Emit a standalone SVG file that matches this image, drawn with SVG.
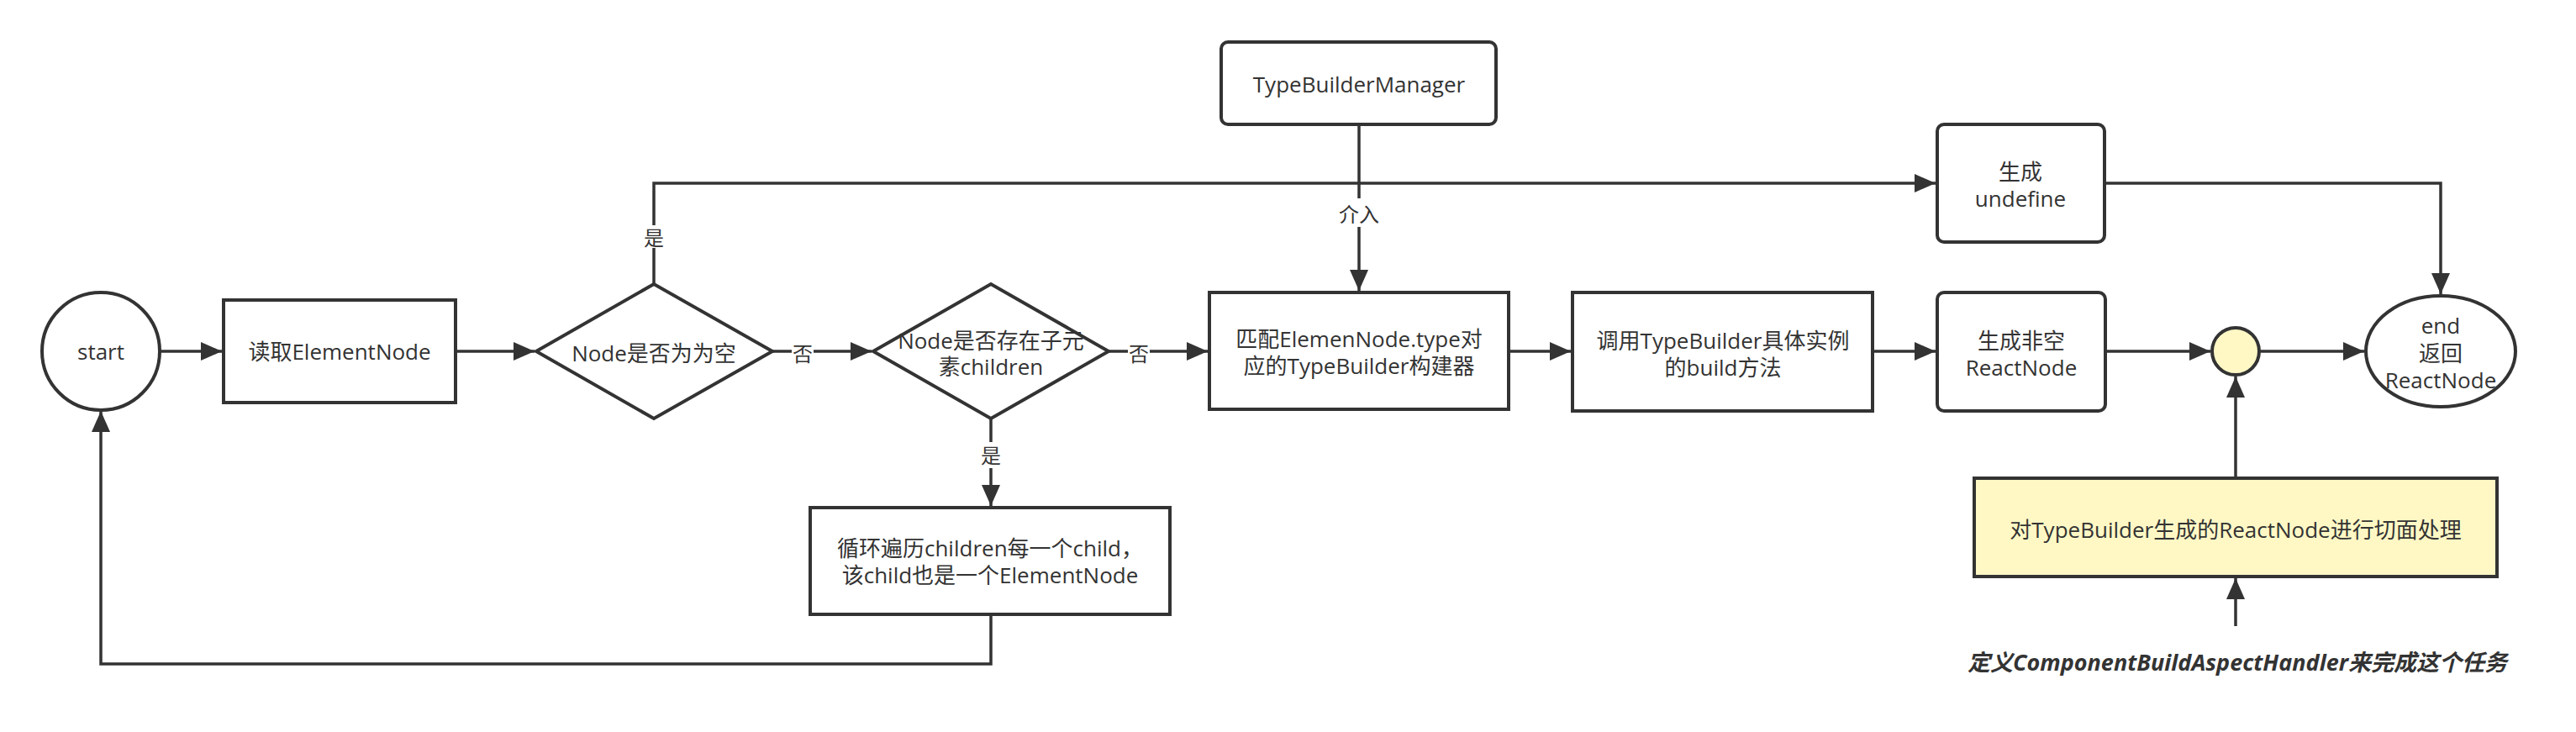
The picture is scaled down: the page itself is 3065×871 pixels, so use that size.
<svg xmlns="http://www.w3.org/2000/svg" width="3065" height="871" viewBox="0 0 3065 871">
<defs>
<style>
.s{fill:#ffffff;stroke:#333333;stroke-width:4}
.y{fill:#fff8c5;stroke:#333333;stroke-width:4}
.c{fill:none;stroke:#333333;stroke-width:3.5}
.t{font-family:"Open Sans","Noto Sans CJK SC",sans-serif;font-size:26px;fill:#333333;text-anchor:middle;dominant-baseline:central}
.l{font-family:"Open Sans","Noto Sans CJK SC",sans-serif;font-size:24px;fill:#333333;text-anchor:middle;dominant-baseline:central}
.n{font-family:"Open Sans","Noto Sans CJK SC",sans-serif;font-size:27px;font-weight:bold;font-style:italic;fill:#333333;text-anchor:middle;dominant-baseline:central}
</style>
<marker id="a" markerUnits="userSpaceOnUse" markerWidth="26" markerHeight="24" refX="25" refY="12" orient="auto" viewBox="0 0 26 24">
<path d="M0,1 L25,12 L0,23 Z" fill="#333333"/>
</marker>
</defs>
<rect width="3065" height="871" fill="#ffffff"/>
<g id="connectors">
<path class="c" d="M190,418 H264" marker-end="url(#a)"/>
<path class="c" d="M542,418 H636" marker-end="url(#a)"/>
<path class="c" d="M919,418 H942"/>
<path class="c" d="M968,418 H1037" marker-end="url(#a)"/>
<path class="c" d="M1319,418 H1342"/>
<path class="c" d="M1368,418 H1437" marker-end="url(#a)"/>
<path class="c" d="M1795,418 H1869" marker-end="url(#a)"/>
<path class="c" d="M2228,418 H2303" marker-end="url(#a)"/>
<path class="c" d="M2505,418 H2630" marker-end="url(#a)"/>
<path class="c" d="M2688,418 H2813" marker-end="url(#a)"/>
<path class="c" d="M778,338 V295"/>
<path class="c" d="M778,268 V218 H2303" marker-end="url(#a)"/>
<path class="c" d="M2504,218 H2904 V350" marker-end="url(#a)"/>
<path class="c" d="M1617,148 V236"/>
<path class="c" d="M1617,270 V346" marker-end="url(#a)"/>
<path class="c" d="M2660,569 V448" marker-end="url(#a)"/>
<path class="c" d="M2660,745 V688" marker-end="url(#a)"/>
<path class="c" d="M1179,498 V526"/>
<path class="c" d="M1179,557 V602" marker-end="url(#a)"/>
<path class="c" d="M1179,731 V790 H120 V489" marker-end="url(#a)"/>
<text class="l" x="955" y="420">否</text>
<text class="l" x="1355" y="420">否</text>
<text class="l" x="778" y="282">是</text>
<text class="l" x="1617" y="254">介入</text>
<text class="l" x="1179" y="541">是</text>
</g>
<g id="start">
<ellipse class="s" cx="120" cy="418" rx="70" ry="70"/>
<text class="t" x="120" y="418">start</text>
</g>
<g id="read">
<rect class="s" x="266" y="357" width="276" height="122"/>
<text class="t" x="404" y="418">读取ElementNode</text>
</g>
<g id="isEmpty">
<polygon class="s" points="638,418 778,338 919,418 778,498"/>
<text class="t" x="778" y="420">Node是否为为空</text>
</g>
<g id="hasChildren">
<polygon class="s" points="1039,418 1179,338 1319,418 1179,498"/>
<text class="t" x="1179" y="405">Node是否存在子元</text>
<text class="t" x="1179" y="436">素children</text>
</g>
<g id="manager">
<rect class="s" x="1453" y="50" width="327" height="98" rx="8"/>
<text class="t" x="1617" y="100">TypeBuilderManager</text>
</g>
<g id="match">
<rect class="s" x="1439" y="348" width="356" height="139"/>
<text class="t" x="1617" y="403">匹配ElemenNode.type对</text>
<text class="t" x="1617" y="435">应的TypeBuilder构建器</text>
</g>
<g id="call">
<rect class="s" x="1871" y="348" width="357" height="141"/>
<text class="t" x="2050" y="405">调用TypeBuilder具体实例</text>
<text class="t" x="2050" y="437">的build方法</text>
</g>
<g id="undefine">
<rect class="s" x="2305" y="148" width="199" height="140" rx="8"/>
<text class="t" x="2404" y="204">生成</text>
<text class="t" x="2404" y="236">undefine</text>
</g>
<g id="reactNode">
<rect class="s" x="2305" y="348" width="200" height="141" rx="8"/>
<text class="t" x="2405" y="405">生成非空</text>
<text class="t" x="2405" y="437">ReactNode</text>
</g>
<g id="join">
<circle class="y" cx="2660" cy="418" r="28"/>
</g>
<g id="end">
<ellipse class="s" cx="2904" cy="418" rx="89" ry="66"/>
<text class="t" x="2904" y="387">end</text>
<text class="t" x="2904" y="420">返回</text>
<text class="t" x="2904" y="452">ReactNode</text>
</g>
<g id="aspect">
<rect class="y" x="2349" y="569" width="622" height="117"/>
<text class="t" x="2660" y="630">对TypeBuilder生成的ReactNode进行切面处理</text>
</g>
<g id="loop">
<rect class="s" x="964" y="604" width="428" height="127"/>
<text class="t" x="1178" y="652">循环遍历children每一个child，</text>
<text class="t" x="1178" y="684">该child也是一个ElementNode</text>
</g>
<g id="note">
<text class="n" x="2662" y="787">定义ComponentBuildAspectHandler来完成这个任务</text>
</g>
</svg>
